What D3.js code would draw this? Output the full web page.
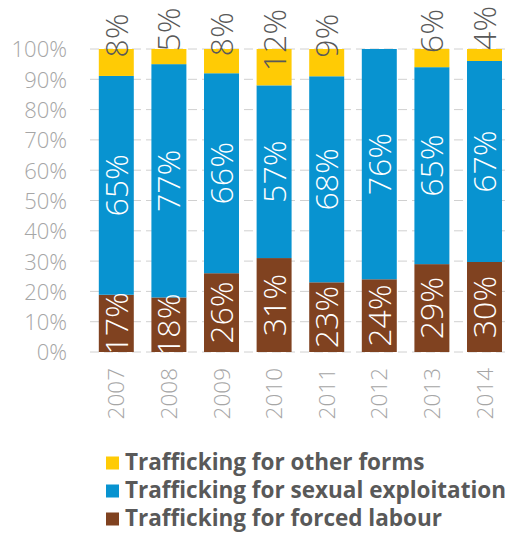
<!DOCTYPE html>
<html>
<head>
<meta charset="utf-8">
<script src="https://cdn.jsdelivr.net/npm/d3@7/dist/d3.min.js"></script>
<style>
  html, body { margin: 0; padding: 0; background: #ffffff; }
  svg { display: block; }
</style>
</head>
<body>
<svg id="chart" width="509" height="537"></svg>
<script>
// ---- data ----
const years = ["2007", "2008", "2009", "2010", "2011", "2012", "2013", "2014"];
const forcedLabour = [17, 18, 26, 31, 23, 24, 29, 30];
const sexualExploitation = [65, 77, 66, 57, 68, 76, 65, 67];
const otherForms = [8, 5, 8, 12, 9, 0, 6, 4];
const yTicks = [0, 0.1, 0.2, 0.3, 0.4, 0.5, 0.6, 0.7, 0.8, 0.9, 1.0];
const seriesKeys = ["forced", "sexual", "other"];
const seriesNames = {
  other: "Trafficking for other forms",
  sexual: "Trafficking for sexual exploitation",
  forced: "Trafficking for forced labour"
};
const legendOrder = ["other", "sexual", "forced"];

// ---- styles ----
const colors = { forced: "#804220", sexual: "#0893d0", other: "#ffcb05" };
const FONT = "'Open Sans', 'Noto Sans', sans-serif";

const table = years.map((y, i) => ({
  year: y, forced: forcedLabour[i], sexual: sexualExploitation[i], other: otherForms[i]
}));

const svg = d3.select("#chart");
const x = d3.scaleBand().domain(years).range([90, 510.8]).paddingInner(0.335).paddingOuter(0.1675);
const y = d3.scaleLinear().domain([0, 1]).range([352, 49]);

const stack = d3.stack().keys(seriesKeys).offset(d3.stackOffsetExpand);
const stacked = stack(table);

// gridlines
svg.append("g").selectAll("line").data(yTicks).join("line")
  .attr("x1", 90).attr("x2", 509)
  .attr("y1", d => y(d)).attr("y2", d => y(d))
  .attr("stroke", "#d0d0d0").attr("stroke-width", 1)
  .attr("stroke-dasharray", "9,5");

// y axis labels
const yAxis = d3.axisLeft(y).tickValues(yTicks).tickFormat(d3.format(".0%")).tickSize(0).tickPadding(0);
const yg = svg.append("g").attr("transform", "translate(67,0)").call(yAxis);
yg.select(".domain").remove();
yg.selectAll("text").attr("fill", "#a6a6a6").style("font-family", FONT).style("font-size", "22px")
  .style("font-weight", "300")
  .attr("dy", "0.36em");

// bars
const layers = svg.append("g").selectAll("g").data(stacked).join("g")
  .attr("fill", d => colors[d.key]);
layers.selectAll("rect").data(d => d).join("rect")
  .attr("x", d => x(d.data.year))
  .attr("width", x.bandwidth())
  .attr("y", d => y(d[1]))
  .attr("height", d => y(d[0]) - y(d[1]));

// clip for labels (bottom of plot)
svg.append("defs").append("clipPath").attr("id", "plotclip")
  .append("rect").attr("x", 0).attr("y", 0).attr("width", 509).attr("height", 352);

const labelG = svg.append("g").attr("clip-path", "url(#plotclip)");
stacked.forEach(layer => {
  layer.forEach(d => {
    const v = d.data[layer.key];
    if (!v) return;
    const cx = x(d.data.year) + x.bandwidth() / 2;
    let cy = (y(d[0]) + y(d[1])) / 2;
    let fill = "#ffffff";
    if (layer.key === "other") { cy -= 27; fill = "#595959"; }
    labelG.append("text")
      .attr("transform", `translate(${cx},${cy}) rotate(-90)`)
      .attr("text-anchor", "middle")
      .attr("dy", "0.36em")
      .attr("fill", fill)
      .style("font-family", FONT)
      .style("font-weight", "300")
      .style("font-size", "32px")
      .text(v + "%");
  });
});

// x axis labels
const xAxis = d3.axisBottom(x).tickSize(0).tickPadding(0);
const xg = svg.append("g").attr("transform", "translate(0,368)").call(xAxis);
xg.select(".domain").remove();
xg.selectAll("text")
  .attr("transform", "rotate(-90)")
  .attr("text-anchor", "end")
  .attr("x", 0).attr("y", 0).attr("dy", "0.36em")
  .attr("fill", "#a6a6a6")
  .style("font-family", FONT).style("font-weight", "300").style("font-size", "22.5px");

// legend
const leg = svg.append("g").selectAll("g").data(legendOrder).join("g")
  .attr("transform", (d, i) => `translate(106,${470 + i * 28})`);
leg.append("rect").attr("x", 0).attr("y", -13.5).attr("width", 13).attr("height", 13)
  .attr("fill", d => colors[d]);
leg.append("text").attr("x", 19).attr("y", 0)
  .attr("fill", "#595959")
  .style("font-family", FONT).style("font-weight", "bold").style("font-size", "22.5px")
  .text(d => seriesNames[d]);
</script>
</body>
</html>
